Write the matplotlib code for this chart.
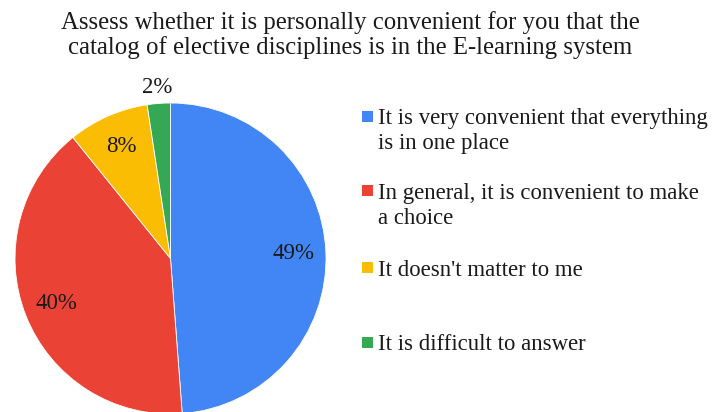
import matplotlib
matplotlib.use("Agg")
import matplotlib.pyplot as plt
from matplotlib.patches import Rectangle
import numpy as np

# survey answers (share of respondents, %)
labels = [
    "It is very convenient that everything\nis in one place",
    "In general, it is convenient to make\na choice",
    "It doesn't matter to me",
    "It is difficult to answer",
]
shares = [48.8, 40.4, 8.4, 2.4]
colors = ["#4285F4", "#EA4335", "#FBBC04", "#34A853"]
title = ("Assess whether it is personally convenient for you that the\n"
         "catalog of elective disciplines is in the E-learning system")

plt.rcParams['font.family'] = ['Liberation Serif', 'DejaVu Serif']
txt_col = "#1a1a1a"

W, H = 714, 412
fig = plt.figure(figsize=(W / 100, H / 100), dpi=100)

# pie area: centre (170.5, 258.5) px from top-left, radius 155.5 px
cx, cy, r = 170.5, 258.5, 155.5
ax = fig.add_axes([(cx - r) / W, (H - cy - r) / H, 2 * r / W, 2 * r / H])
wedges, texts, autotexts = ax.pie(
    shares, colors=colors, startangle=90, counterclock=False,
    autopct="%.0f%%", pctdistance=0.79,
    wedgeprops=dict(edgecolor="white", linewidth=0.6),
    textprops=dict(fontsize=16.5, color=txt_col))
ax.set_xlim(-1, 1)
ax.set_ylim(-1, 1)
ax.set_aspect("equal")

# the small slice gets its label outside the pie
w = wedges[-1]
ang = np.deg2rad((w.theta1 + w.theta2) / 2)
autotexts[-1].set_position((1.1 * np.cos(ang), 1.1 * np.sin(ang)))

fig.text(350 / W, 1 - 11 / H, title, ha="center", va="top",
         fontsize=17.8, linespacing=1.12, color=txt_col)

# legend, square handles aligned with the first line of each label
leg_y = [116, 191, 267.5, 342.5]
for lab, col, y in zip(labels, colors, leg_y):
    fig.add_artist(Rectangle((362 / W, (H - y - 5.5) / H), 11 / W, 11 / H,
                             transform=fig.transFigure, color=col, lw=0))
    fig.text(378 / W, (H - y + 8) / H, lab, ha="left", va="top",
             fontsize=16.4, linespacing=1.25, color=txt_col)

fig.savefig("out.png", dpi=100)
